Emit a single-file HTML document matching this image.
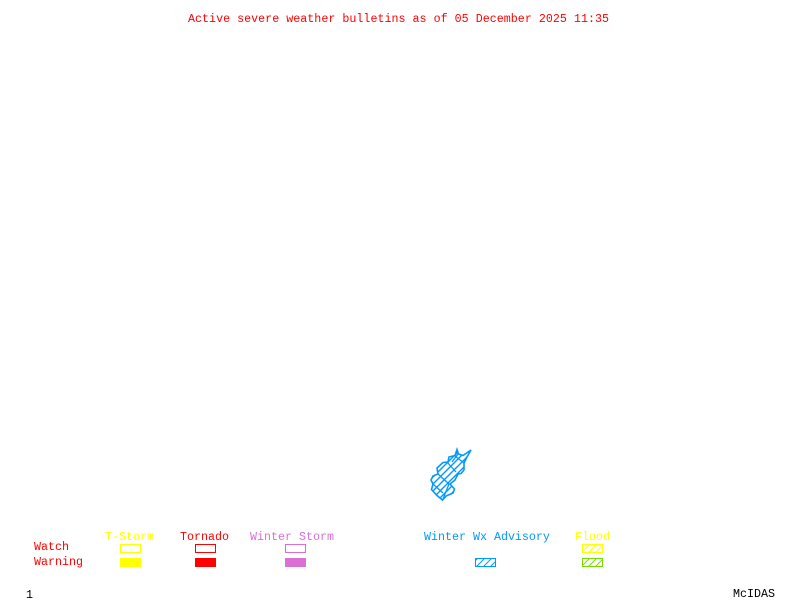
<!DOCTYPE html>
<html>
<head>
<meta charset="utf-8">
<style>
html,body{margin:0;padding:0;background:#fff;width:800px;height:600px;overflow:hidden}
svg{display:block}
text{font-family:"Liberation Mono",monospace;font-size:11.67px;white-space:pre}
</style>
</head>
<body>
<svg width="800" height="600" viewBox="0 0 800 600" xmlns="http://www.w3.org/2000/svg">
<defs>
<pattern id="hb" width="7" height="7" patternUnits="userSpaceOnUse"><path d="M-1 8L8 -1M-1 1L1 -1M6 8L8 6" stroke="#0099ff" fill="none"/></pattern>
<pattern id="hy" width="7" height="7" patternUnits="userSpaceOnUse"><path d="M-1 8L8 -1M-1 1L1 -1M6 8L8 6" stroke="#ffff00" fill="none"/></pattern>
<pattern id="hg" width="7" height="7" patternUnits="userSpaceOnUse"><path d="M-1 8L8 -1M-1 1L1 -1M6 8L8 6" stroke="#77dd00" fill="none"/></pattern>
<pattern id="hm" width="7" height="7" patternUnits="userSpaceOnUse"><path d="M-1 8L8 -1M-1 1L1 -1M6 8L8 6" stroke="#0099ff" stroke-width="1.4" fill="none"/></pattern>
</defs>

<text x="188" y="22" fill="#ff0000" textLength="421" lengthAdjust="spacing">Active severe weather bulletins as of 05 December 2025 11:35</text>

<polygon points="457,449.5 458.5,454 463,455.5 471,450 467,457 464,463 464,470 461,473.5 458,474 455,480 450,484 454.5,489 453,493 446,496 442.5,500 437,495.5 431.5,489.5 433,484 431,480 433,476 438,474 437,468 443,462.5 448,462 449,457 455,455.5" fill="url(#hm)" stroke="#0099ff" stroke-width="1.6"/>
<path d="M455 456L464 463M458 454L452 462M447 462L456 472M438 474L449 484M433 484L443 493M449 484L443 499" fill="none" stroke="#0099ff" stroke-width="1.3"/>

<g fill="#ff0000">
<text x="34" y="550">Watch</text>
<text x="34" y="565">Warning</text>
</g>
<text x="105" y="540" fill="#ffff00">T-Storm</text>
<text x="180" y="540" fill="#ff0000">Tornado</text>
<text x="250" y="540" fill="#da70d6">Winter Storm</text>
<text x="424" y="540" fill="#0099ff">Winter Wx Advisory</text>
<text x="575" y="540" fill="#ffff00">Flood</text>

<g shape-rendering="crispEdges">
<rect x="120.5" y="544.5" width="20" height="8" fill="none" stroke="#ffff00"/>
<rect x="120" y="558" width="21" height="9" fill="#ffff00"/>
<rect x="195.5" y="544.5" width="20" height="8" fill="none" stroke="#ff0000"/>
<rect x="195" y="558" width="21" height="9" fill="#ff0000"/>
<rect x="285.5" y="544.5" width="20" height="8" fill="none" stroke="#da70d6"/>
<rect x="285" y="558" width="21" height="9" fill="#da70d6"/>
<rect x="475.5" y="558.5" width="20" height="8" fill="url(#hb)" stroke="#0099ff"/>
<rect x="582.5" y="544.5" width="20" height="8" fill="url(#hy)" stroke="#ffff00"/>
<rect x="582.5" y="558.5" width="20" height="8" fill="url(#hg)" stroke="#77dd00"/>
</g>

<text x="26" y="598" fill="#000000">1</text>
<text x="733" y="597" fill="#000000">McIDAS</text>
</svg>
</body>
</html>
